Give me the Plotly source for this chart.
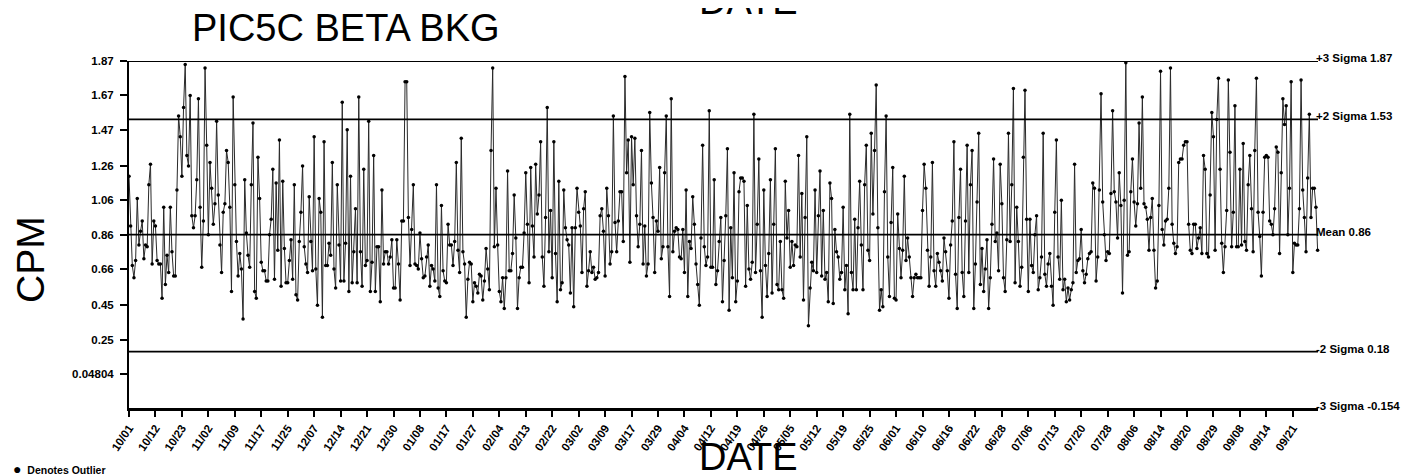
import plotly.graph_objects as go

# ---- data (CPM per sample, in time order) ----
cpm_oct_jan = [
    1.20, 0.91, 0.68, 0.61, 0.71, 1.07, 0.80, 0.88, 0.94, 0.72,
    0.80, 0.79, 1.15, 1.27, 0.69, 0.94, 0.91, 0.71, 0.69, 0.69,
    0.49, 1.02, 0.57, 0.74, 0.64, 1.02, 0.76, 0.62, 0.62, 1.12,
    1.55, 1.43, 1.20, 1.60, 1.85, 1.32, 1.26, 1.67, 0.97, 0.90,
    0.97, 1.18, 1.65, 1.02, 0.67, 0.94, 1.83, 1.38, 0.86, 1.28,
    1.13, 0.92, 1.04, 1.52, 1.09, 0.80, 0.64, 0.99, 1.04, 1.35,
    1.28, 1.02, 0.53, 1.66, 1.15, 0.82, 0.62, 0.75, 0.66, 0.37,
    1.18, 0.87, 0.74, 0.67, 1.15, 1.51, 0.53, 0.49, 1.31, 1.07,
    0.70, 0.65, 0.65, 0.59, 0.59, 0.86, 0.95, 1.24, 0.60, 1.16,
    0.77, 1.41, 0.56, 1.17, 0.78, 0.58, 0.58, 0.71, 0.83, 0.60,
    1.15, 0.51, 0.48, 0.82, 0.99, 1.26, 0.79, 0.69, 0.64, 1.08,
    0.82, 0.65, 1.43, 0.66, 0.45, 1.07, 0.99, 0.38, 1.40, 0.68,
    0.68, 0.81, 0.74, 1.28, 0.66, 0.55, 1.15, 0.80, 0.59, 1.63,
    0.59, 0.81, 1.47, 0.53, 1.20, 0.58, 0.76, 1.01, 0.58, 1.66,
    0.76, 0.56, 1.24, 0.68, 0.71, 1.52, 0.53, 0.70, 1.32, 0.53,
    0.79, 0.79, 0.47, 1.12, 0.69, 0.76, 0.76, 0.69, 0.73, 0.83,
    0.55, 0.55, 0.83, 0.69, 0.48, 0.94, 0.94, 1.75, 1.75, 0.96,
    0.68, 0.89, 1.15, 0.69, 0.68, 0.66, 0.87, 0.72, 0.61, 0.62,
    0.73, 0.80, 0.56, 0.68, 0.66, 0.59, 1.15, 0.55, 0.50, 1.03,
    0.65, 0.59, 0.58, 0.92, 0.80, 0.80, 0.68, 0.82, 1.28, 0.77,
    0.64, 1.42, 0.76, 0.69, 0.38, 0.60,
]

cpm_feb_may = [
    0.70, 0.69, 0.47, 0.58, 0.56, 0.52, 0.63, 0.62, 0.48, 0.59,
    0.78, 0.66, 0.54, 1.35, 1.83, 0.79, 1.13, 0.80, 0.53, 0.47,
    0.61, 0.43, 0.61, 1.23, 0.65, 0.65, 0.75, 1.09, 0.84, 0.43,
    0.61, 0.67, 0.67, 0.87, 1.22, 0.92, 0.58, 1.25, 0.91, 0.73,
    1.27, 0.98, 1.09, 1.40, 0.73, 0.56, 0.96, 1.60, 0.76, 1.00,
    0.61, 1.40, 0.75, 0.47, 1.17, 0.54, 0.58, 1.12, 0.90, 0.83,
    0.80, 0.52, 0.90, 0.44, 0.90, 1.13, 0.99, 0.91, 0.64, 1.01,
    1.11, 0.56, 0.65, 0.76, 0.64, 0.67, 0.60, 0.61, 0.64, 0.97,
    1.01, 0.88, 0.62, 1.13, 0.97, 0.69, 0.76, 1.55, 0.93, 0.76,
    0.94, 1.11, 1.11, 0.82, 1.78, 1.22, 1.41, 0.70, 1.43, 1.15,
    1.42, 0.97, 0.79, 0.92, 1.35, 0.69, 0.91, 0.62, 0.69, 1.57,
    1.16, 0.96, 0.64, 0.94, 0.88, 1.25, 0.72, 0.79, 1.22, 1.55,
    0.79, 0.50, 1.65, 0.76, 0.88, 0.90, 0.89, 0.73, 0.72, 0.89,
    0.64, 1.12, 0.50, 0.82, 0.78, 1.08, 0.92, 0.69, 0.57, 0.45,
    0.84, 1.38, 0.79, 0.68, 0.73, 1.58, 0.67, 0.67, 1.18, 0.57,
    0.65, 0.82, 0.96, 0.47, 0.71, 0.97, 1.36, 0.42, 0.90, 0.61,
    1.22, 0.47, 0.59, 1.11, 1.19, 1.19, 1.17, 0.56, 1.03, 0.66,
    0.60, 0.70, 1.56, 0.64, 0.92, 1.30, 0.65, 0.38, 1.12, 0.68,
    0.50, 0.75, 1.18, 0.52, 0.92, 1.36, 0.57, 0.54, 0.82, 0.54,
    0.49, 1.17, 0.84, 1.00, 0.67, 0.82, 0.68, 0.80, 0.79, 1.32,
    0.73, 1.10, 0.48, 0.96, 1.43, 0.33, 0.55, 0.70, 0.65, 1.12,
    0.64, 0.97, 1.23, 0.62, 1.00, 0.60, 0.64, 0.47, 1.16, 1.07,
    0.46, 0.89, 0.76, 0.73, 0.60,
]

cpm_jun_sep = [
    0.64, 1.02, 0.54, 0.68, 0.40, 1.56, 0.64, 0.54, 0.95, 0.54,
    0.90, 1.17, 0.80, 0.54, 1.15, 1.38, 0.77, 0.71, 1.45, 0.98,
    1.35, 1.73, 0.90, 0.42, 0.54, 0.44, 1.11, 1.55, 0.73, 0.50,
    0.93, 1.25, 0.49, 0.48, 0.98, 0.78, 0.61, 0.77, 1.20, 0.71,
    0.84, 0.73, 0.61, 0.50, 0.61, 0.63, 0.61, 0.61, 0.61, 1.00,
    1.27, 1.13, 0.77, 0.56, 0.73, 1.28, 0.65, 0.56, 0.75, 0.70,
    0.65, 0.59, 0.84, 0.76, 0.65, 0.49, 0.80, 0.94, 1.40, 0.63,
    0.43, 0.96, 1.24, 0.64, 0.50, 0.94, 1.38, 0.64, 1.15, 1.35,
    0.43, 0.69, 1.05, 1.45, 0.57, 0.78, 0.53, 0.66, 0.83, 0.43,
    0.61, 0.92, 1.30, 0.82, 0.87, 0.65, 1.27, 1.04, 0.61, 0.53,
    0.83, 1.45, 0.82, 1.15, 1.71, 0.58, 1.02, 0.82, 0.56, 0.67,
    1.31, 1.70, 0.95, 0.53, 0.95, 0.68, 0.64, 0.86, 0.97, 0.54,
    0.61, 0.73, 1.45, 0.63, 0.56, 0.69, 0.75, 0.56, 0.45, 0.99,
    1.41, 0.73, 0.60, 1.06, 0.54, 0.60, 0.47, 0.55, 0.48, 0.54,
    0.58, 1.27, 0.64, 0.71, 0.72, 0.89, 0.65, 0.58, 0.63, 0.72,
    0.75, 0.76, 1.16, 1.13, 0.59, 0.73, 1.12, 1.68, 1.05, 0.86,
    0.71, 0.76, 0.75, 1.10, 1.58, 1.11, 1.05, 0.84, 1.22, 1.03,
    0.52, 1.06, 1.86, 0.74, 0.76, 1.11, 1.30, 1.05, 0.91, 1.04,
    1.51, 1.13, 1.66, 1.04, 1.02, 0.95, 0.77, 0.96, 1.07, 0.77,
    0.55, 0.59, 1.03, 1.81, 0.89, 0.80, 0.94, 0.95, 1.13, 1.83,
    0.92, 0.81, 0.75, 0.79, 1.28, 1.30, 1.30, 1.38, 1.40, 1.40,
    0.92, 0.77, 0.75, 0.92, 0.92, 0.78, 0.84, 0.90, 0.75, 1.32,
    1.24, 0.75, 0.73, 1.09, 1.57, 1.43, 0.77, 1.53, 1.77, 1.24,
    0.81, 0.64, 0.79, 1.00, 1.76, 1.34, 0.79, 0.99, 1.61, 0.79,
    0.79, 1.24, 0.80, 1.39, 0.82, 0.77, 1.15, 1.32, 1.01, 0.76,
    1.35, 1.77, 0.99, 0.85, 0.62, 0.99, 1.31, 1.32, 1.31, 0.94,
    0.92, 0.86, 1.01, 1.37, 1.34, 0.75, 1.22, 1.65, 1.50, 1.61,
    0.86, 1.13, 1.75, 0.64, 0.81, 0.80,
]

cpm_late_sep = [0.80, 1.01, 1.76, 1.12, 0.96, 0.76, 1.19, 1.56, 0.96, 1.13, 1.13, 1.02, 0.77]

date_labels = [
    "10/01", "10/12", "10/23", "11/02", "11/09", "11/17", "11/25", "12/07", "12/14",
    "12/21", "12/30", "01/08", "01/17", "01/27", "02/04", "02/13", "02/22", "03/02",
    "03/09", "03/17", "03/29", "04/04", "04/12", "04/19", "04/26", "05/05", "05/12",
    "05/19", "05/25", "06/01", "06/10", "06/16", "06/22", "06/28", "07/06", "07/13",
    "07/20", "07/28", "08/06", "08/14", "08/20", "08/29", "09/08", "09/14", "09/21",
]
samples_per_label = 16

y_tick_values = [1.87, 1.67, 1.47, 1.26, 1.06, 0.86, 0.66, 0.45, 0.25, 0.04804]
y_tick_text = ["1.87", "1.67", "1.47", "1.26", "1.06", "0.86", "0.66", "0.45", "0.25", "0.04804"]

limit_labels = ["+3 Sigma 1.87", "+2 Sigma 1.53", "Mean 0.86", "-2 Sigma 0.18", "-3 Sigma -0.154"]
limit_values = [1.87, 1.53, 0.86, 0.18, -0.154]

# ---- build ----
cpm = cpm_oct_jan + cpm_feb_may + cpm_jun_sep + cpm_late_sep
sample = list(range(len(cpm)))
date_ticks = [i * samples_per_label for i in range(len(date_labels))]

W, H = 1424, 476
L, R, T, B = 121, 1310, 53, 401


def px(x):
    return (x - L) / (R - L)


def py(y):
    return (B - y) / (B - T)


FONT = "Liberation Sans, Arial, sans-serif"

fig = go.Figure()
fig.add_trace(go.Scatter(
    x=sample, y=cpm, mode="lines+markers",
    line=dict(color="#2a2a2a", width=1),
    marker=dict(color="black", size=3.5),
    cliponaxis=False, showlegend=False,
))

shapes = []
annotations = []
for name, val in zip(limit_labels, limit_values):
    shapes.append(dict(type="line", xref="paper", yref="y", x0=0, x1=1, y0=val, y1=val,
                       line=dict(color="black", width=1.8)))
    annotations.append(dict(xref="paper", yref="y", x=1, y=val, xanchor="left", yanchor="middle",
                            xshift=-4, yshift=3, showarrow=False, text="<b>" + name + "</b>",
                            font=dict(family=FONT, size=11.5, color="black")))

annotations += [
    dict(xref="paper", yref="paper", x=px(338), y=py(20), text="PIC5C BETA BKG", showarrow=False,
         xanchor="center", yanchor="middle", font=dict(family=FONT, size=38, color="black")),
    dict(xref="paper", yref="paper", x=px(740), y=py(-7), text="DATE", showarrow=False,
         xanchor="center", yanchor="middle", font=dict(family=FONT, size=38, color="black")),
    dict(xref="paper", yref="paper", x=px(740), y=py(449), text="DATE", showarrow=False,
         xanchor="center", yanchor="middle", font=dict(family=FONT, size=38, color="black")),
    dict(xref="paper", yref="paper", x=px(22), y=py(252), text="CPM", showarrow=False, textangle=-90,
         xanchor="center", yanchor="middle", font=dict(family=FONT, size=39, color="black")),
    dict(xref="paper", yref="paper", x=px(3), y=py(461),
         text="<span style='font-size:14px'>\u25CF</span>  <b>Denotes Outlier</b>", showarrow=False,
         xanchor="left", yanchor="middle", font=dict(family=FONT, size=10.5, color="black")),
]

fig.update_layout(
    width=W, height=H,
    margin=dict(l=L, r=W - R, t=T, b=H - B, pad=0),
    paper_bgcolor="white", plot_bgcolor="white",
    shapes=shapes, annotations=annotations,
    font=dict(family=FONT, color="black"),
    xaxis=dict(range=[0, (R - L) / (26.45 / samples_per_label)], tickmode="array",
               tickvals=date_ticks, ticktext=["<b>" + d + "</b>" for d in date_labels], tickangle=-56,
               ticks="outside", ticklen=6, tickwidth=1.5, tickcolor="black",
               showline=True, linecolor="black", linewidth=2,
               showgrid=False, zeroline=False,
               tickfont=dict(family=FONT, size=11.5, color="black")),
    yaxis=dict(range=[-0.154, 1.87], tickmode="array",
               tickvals=y_tick_values, ticktext=["<b>" + t + "</b>" for t in y_tick_text],
               ticks="outside", ticklen=7, tickwidth=1.5, tickcolor="black",
               ticklabelstandoff=4,
               showline=True, linecolor="black", linewidth=2,
               showgrid=False, zeroline=False,
               tickfont=dict(family=FONT, size=11.5, color="black")),
)

fig.write_html("out.html")
